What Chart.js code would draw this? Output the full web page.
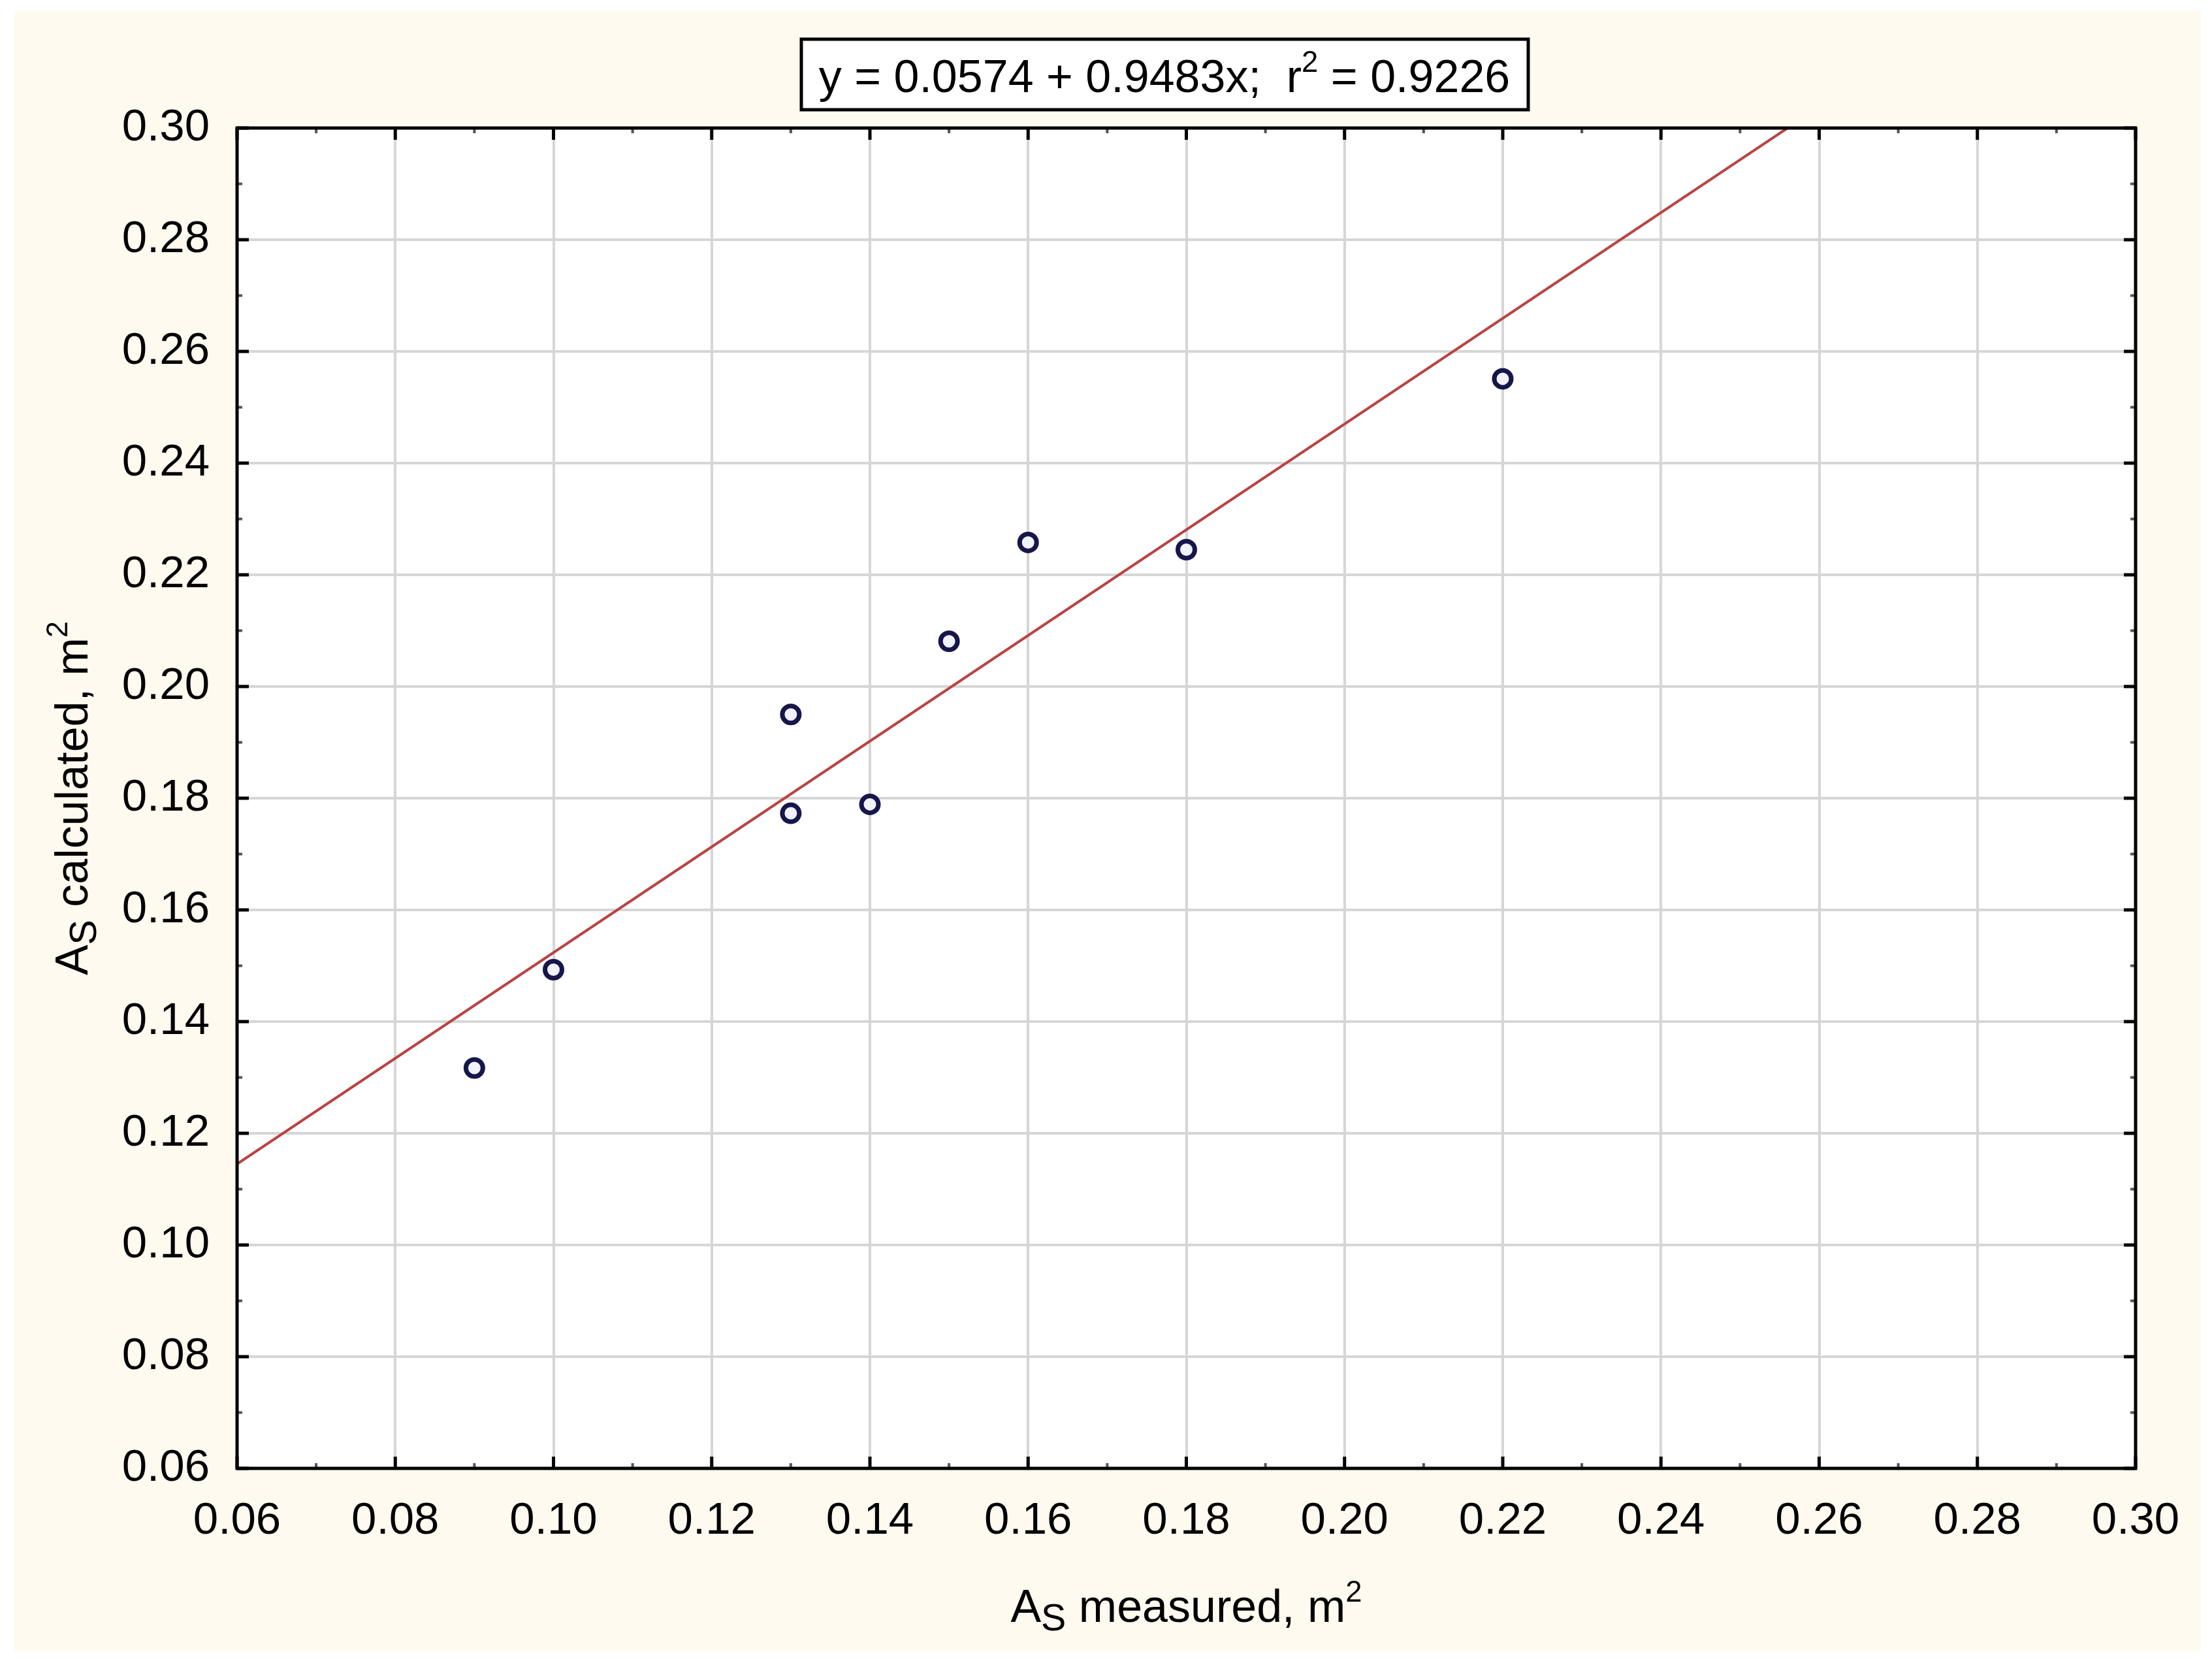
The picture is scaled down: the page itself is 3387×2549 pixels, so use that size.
<!DOCTYPE html>
<html>
<head>
<meta charset="utf-8">
<script src="https://cdn.jsdelivr.net/npm/chart.js@4.4.0/dist/chart.umd.min.js"></script>
<style>
html, body { margin: 0; padding: 0; background: #ffffff; }
#wrap { width: 3387px; height: 2549px; }
</style>
</head>
<body>
<div id="wrap"><canvas id="scatterChart" width="3387" height="2549"></canvas></div>
<script>
// As measured vs As calculated (m2)
var measured = [0.09, 0.10, 0.13, 0.13, 0.14, 0.15, 0.16, 0.18, 0.22];
var calculated = [0.1317, 0.1493, 0.1950, 0.1773, 0.1789, 0.2081, 0.2258, 0.2245, 0.2551];

// fitted line, where it enters and leaves the frame
var fitX = [0.06, 0.2560];
var fitY = [0.1145, 0.30];

var xTicks = [0.06, 0.08, 0.10, 0.12, 0.14, 0.16, 0.18, 0.20, 0.22, 0.24, 0.26, 0.28, 0.30];
var yTicks = [0.06, 0.08, 0.10, 0.12, 0.14, 0.16, 0.18, 0.20, 0.22, 0.24, 0.26, 0.28, 0.30];

var equationText = ["y = 0.0574 + 0.9483x;  r", "2", " = 0.9226"];
var FONT = "'Liberation Sans', Arial, sans-serif";

// draws text pieces with sub/superscripts, centred on x
function drawRich(ctx, parts, x, y, size) {
    var widths = [];
    var total = 0;
    parts.forEach(function (p) {
        var s = p.sub ? size * 0.82 : (p.sup ? size * 0.65 : size);
        ctx.font = s + "px " + FONT;
        var w = ctx.measureText(p.t).width;
        widths.push(w);
        total += w;
    });
    var cx = x - total / 2;
    parts.forEach(function (p, i) {
        var s = p.sub ? size * 0.82 : (p.sup ? size * 0.65 : size);
        var dy = p.sub ? size * 0.18 : (p.sup ? -size * 0.45 : 0);
        ctx.font = s + "px " + FONT;
        ctx.fillText(p.t, cx, y + dy);
        cx += widths[i];
    });
}

var framePlugin = {
    id: 'framePlugin',
    beforeDraw: function (chart) {
        var ctx = chart.ctx;
        var a = chart.chartArea;
        ctx.save();
        ctx.fillStyle = '#ffffff';
        ctx.fillRect(0, 0, chart.width, chart.height);
        ctx.fillStyle = '#fffaf0';
        ctx.fillRect(22, 16, 3348, 2511);
        ctx.fillStyle = '#ffffff';
        ctx.fillRect(a.left, a.top, a.right - a.left, a.bottom - a.top);
        ctx.restore();
    },
    afterDatasetsDraw: function (chart) {
        var ctx = chart.ctx;
        var a = chart.chartArea;
        var xs = chart.scales.x;
        var ys = chart.scales.y;
        ctx.save();
        // minor ticks
        ctx.strokeStyle = '#555555';
        ctx.lineWidth = 4;
        for (var i = 0; i < xTicks.length - 1; i++) {
            var mx = xs.getPixelForValue((xTicks[i] + xTicks[i + 1]) / 2);
            ctx.beginPath();
            ctx.moveTo(mx, a.bottom); ctx.lineTo(mx, a.bottom - 8);
            ctx.moveTo(mx, a.top); ctx.lineTo(mx, a.top + 8);
            ctx.stroke();
        }
        for (var j = 0; j < yTicks.length - 1; j++) {
            var my = ys.getPixelForValue((yTicks[j] + yTicks[j + 1]) / 2);
            ctx.beginPath();
            ctx.moveTo(a.left, my); ctx.lineTo(a.left + 8, my);
            ctx.moveTo(a.right, my); ctx.lineTo(a.right - 8, my);
            ctx.stroke();
        }
        // major ticks
        ctx.strokeStyle = '#000000';
        ctx.lineWidth = 5;
        xTicks.forEach(function (v) {
            var px = xs.getPixelForValue(v);
            ctx.beginPath();
            ctx.moveTo(px, a.bottom); ctx.lineTo(px, a.bottom - 18);
            ctx.moveTo(px, a.top); ctx.lineTo(px, a.top + 18);
            ctx.stroke();
        });
        yTicks.forEach(function (v) {
            var py = ys.getPixelForValue(v);
            ctx.beginPath();
            ctx.moveTo(a.left, py); ctx.lineTo(a.left + 18, py);
            ctx.moveTo(a.right, py); ctx.lineTo(a.right - 18, py);
            ctx.stroke();
        });
        // frame
        ctx.lineWidth = 5;
        ctx.strokeRect(a.left, a.top, a.right - a.left, a.bottom - a.top);
        ctx.restore();
    },
    afterDraw: function (chart) {
        var ctx = chart.ctx;
        var a = chart.chartArea;
        ctx.save();
        ctx.textBaseline = 'alphabetic';
        ctx.textAlign = 'left';

        // equation box
        ctx.fillStyle = '#ffffff';
        ctx.fillRect(1227, 60, 1113, 108);
        ctx.strokeStyle = '#000000';
        ctx.lineWidth = 5;
        ctx.strokeRect(1227, 60, 1113, 108);
        ctx.fillStyle = '#000000';
        drawRich(ctx, [
            { t: equationText[0] },
            { t: equationText[1], sup: true },
            { t: equationText[2] }
        ], 1783, 141, 70);

        // x axis title
        drawRich(ctx, [
            { t: "A" }, { t: "S", sub: true }, { t: " measured, m" }, { t: "2", sup: true }
        ], (a.left + a.right) / 2, 2483, 70);

        // y axis title
        ctx.translate(134, (a.top + a.bottom) / 2);
        ctx.rotate(-Math.PI / 2);
        drawRich(ctx, [
            { t: "A" }, { t: "S", sub: true }, { t: " calculated, m" }, { t: "2", sup: true }
        ], 0, 0, 70);
        ctx.restore();
    }
};

function makeTicks(list) {
    return function (scale) {
        scale.ticks = list.map(function (v) { return { value: v }; });
    };
}

var ctx = document.getElementById("scatterChart");
var scatterChart = new Chart(ctx, {
    type: 'scatter',
    data: {
        datasets: [
            {
                label: 'As',
                data: measured.map(function (x, i) { return { x: x, y: calculated[i] }; }),
                pointRadius: 13,
                pointBorderWidth: 7,
                pointBorderColor: '#16164a',
                pointBackgroundColor: '#f2f2ff',
                showLine: false
            },
            {
                type: 'line',
                label: 'fit',
                data: fitX.map(function (x, i) { return { x: x, y: fitY[i] }; }),
                borderColor: '#b84444',
                borderWidth: 4,
                pointRadius: 0,
                fill: false
            }
        ]
    },
    options: {
        responsive: false,
        animation: false,
        devicePixelRatio: 1,
        layout: { padding: { top: 196, right: 117, left: 0, bottom: 0 } },
        plugins: {
            legend: { display: false },
            tooltip: { enabled: false },
            title: { display: false }
        },
        scales: {
            x: {
                type: 'linear',
                min: 0.06,
                max: 0.30,
                afterBuildTicks: makeTicks(xTicks),
                afterFit: function (scale) { scale.height = 2549 - 2248; },
                grid: { color: '#d6d6d6', lineWidth: 4, drawTicks: false },
                border: { display: false },
                ticks: {
                    color: '#000000',
                    font: { family: FONT, size: 69 },
                    padding: 40,
                    maxRotation: 0,
                    autoSkip: false,
                    callback: function (v) { return Number(v).toFixed(2); }
                }
            },
            y: {
                type: 'linear',
                min: 0.06,
                max: 0.30,
                afterBuildTicks: makeTicks(yTicks),
                afterFit: function (scale) { scale.width = 363; },
                grid: { color: '#d6d6d6', lineWidth: 4, drawTicks: false },
                border: { display: false },
                ticks: {
                    color: '#000000',
                    font: { family: FONT, size: 69 },
                    padding: 42,
                    autoSkip: false,
                    callback: function (v) { return Number(v).toFixed(2); }
                }
            }
        }
    },
    plugins: [framePlugin]
});
</script>
</body>
</html>
